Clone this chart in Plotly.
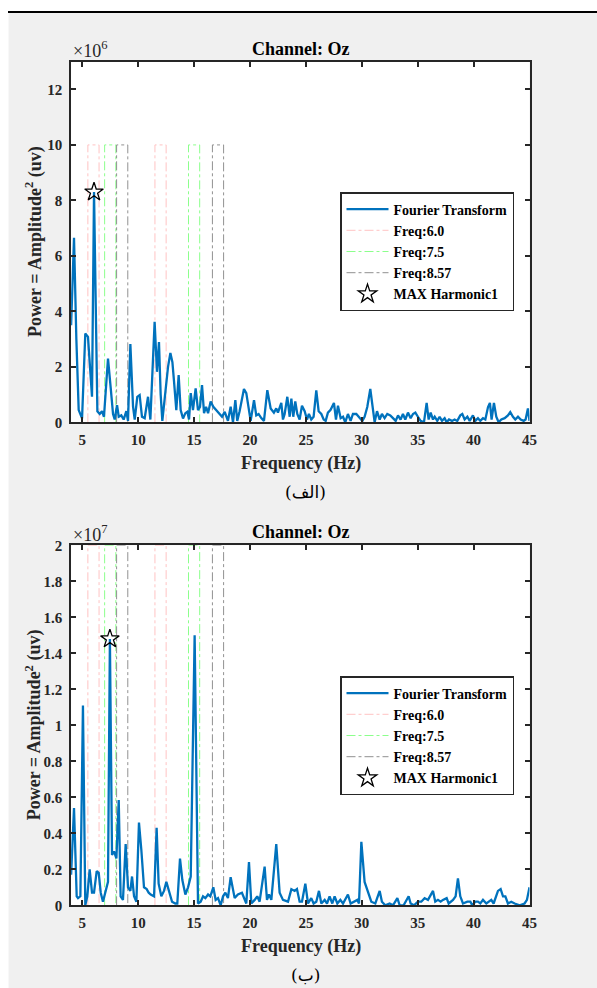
import plotly.graph_objects as go

# ---------------- data ----------------
# Panel (الف): power in units of 1e6
FREQ_A = [4.0, 4.26, 4.47, 4.68, 4.98, 5.27, 5.51, 5.87, 6.05, 6.35,
          6.56, 6.76, 6.94, 7.3, 7.54, 7.75, 7.9, 8.11, 8.26, 8.49,
          8.7, 8.94, 9.09, 9.3, 9.54, 9.69, 9.92, 10.13, 10.34, 10.58,
          10.88, 11.09, 11.47, 11.68, 11.86, 12.01, 12.16, 12.43, 12.67, 12.88,
          13.06, 13.2, 13.41, 13.62, 13.8, 14.01, 14.22, 14.4, 14.55, 14.7,
          14.9, 15.14, 15.35, 15.53, 15.71, 15.89, 16.07, 16.25, 16.48, 16.72,
          16.99, 17.29, 17.5, 17.74, 18.03, 18.27, 18.48, 18.69, 18.86, 19.07,
          19.46, 19.67, 19.88, 20.06, 20.36, 20.56, 20.77, 21.01, 21.25, 21.55,
          21.85, 22.14, 22.35, 22.5, 22.8, 22.95, 23.1, 23.34, 23.55, 23.7,
          23.87, 24.05, 24.23, 24.44, 24.65, 24.89, 25.1, 25.27, 25.48, 25.69,
          25.93, 26.14, 26.38, 26.59, 26.77, 26.97, 27.21, 27.51, 27.69, 27.87,
          28.11, 28.32, 28.52, 28.76, 29.0, 29.21, 29.51, 29.81, 30.05, 30.25,
          30.49, 30.76, 31.0, 31.15, 31.36, 31.6, 31.8, 32.04, 32.28, 32.55,
          32.79, 33.03, 33.24, 33.47, 33.68, 33.89, 34.13, 34.37, 34.58, 34.79,
          35.02, 35.26, 35.56, 35.8, 35.98, 36.16, 36.37, 36.52, 36.75, 36.96,
          37.17, 37.41, 37.59, 37.8, 38.07, 38.3, 38.54, 38.81, 38.99, 39.2,
          39.44, 39.65, 39.94, 40.15, 40.39, 40.6, 40.84, 41.05, 41.29, 41.46,
          41.61, 41.82, 42.03, 42.24, 42.48, 42.78, 43.07, 43.28, 43.52, 43.73,
          43.97, 44.21, 44.48, 44.65, 44.86, 45.0]
POWER_A = [3.5, 6.65, 3.0, 0.44, 0.14, 3.2, 3.08, 0.92, 8.3, 0.4,
           0.3, 0.4, 0.2, 2.3, 1.25, 0.3, 0.1, 0.62, 0.2, 0.25,
           0.1, 0.4, 0.05, 2.82, 0.56, 0.1, 0.92, 0.98, 0.2, 0.15,
           0.92, 0.1, 3.62, 1.82, 2.89, 1.0, 0.05, 1.0, 2.0, 2.5,
           2.17, 1.5, 0.44, 1.7, 0.44, 0.14, 0.33, 0.38, 0.1, 1.05,
           0.44, 1.22, 0.44, 0.56, 1.34, 0.33, 0.56, 0.33, 0.75, 0.56,
           0.44, 0.33, 0.2, 0.38, 0.05, 0.56, 0.0, 0.8, 0.05, 0.4,
           1.2, 1.05, 0.4, 0.05, 0.8, 0.25, 0.3, 0.15, 0.05, 1.16,
           0.5, 0.35, 0.5, 0.35, 0.7, 0.1, 0.3, 0.92, 0.2, 0.85,
           0.2, 0.75, 0.3, 0.1, 0.6, 0.4, 0.1, 0.3, 0.1, 0.2,
           1.15, 0.4, 0.3, 0.1, 0.05, 0.35, 0.45, 0.7, 0.1, 0.6,
           0.15, 0.2, 0.0, 0.3, 0.05, 0.3, 0.3, 0.15, 0.05, 0.2,
           0.55, 1.2, 0.4, 0.0, 0.4, 0.1, 0.3, 0.15, 0.3, 0.25,
           0.15, 0.05, 0.25, 0.1, 0.3, 0.1, 0.35, 0.15, 0.3, 0.35,
           0.2, 0.05, 0.0, 0.7, 0.1, 0.35, 0.1, 0.2, 0.05, 0.2,
           0.05, 0.15, 0.0, 0.1, 0.05, 0.1, 0.05, 0.25, 0.3, 0.1,
           0.2, 0.05, 0.25, 0.05, 0.15, 0.05, 0.15, 0.1, 0.55, 0.7,
           0.1, 0.7, 0.2, 0.0, 0.1, 0.15, 0.25, 0.37, 0.2, 0.1,
           0.2, 0.1, 0.05, 0.1, 0.5, 0.05]

# Panel (ب): power in units of 1e7
FREQ_B = [4.0, 4.26, 4.5, 4.62, 4.83, 5.06, 5.27, 5.45, 5.66, 5.87,
          6.05, 6.29, 6.47, 6.65, 6.85, 7.15, 7.3, 7.47, 7.66, 7.84,
          8.05, 8.26, 8.43, 8.64, 8.88, 9.09, 9.3, 9.45, 9.63, 9.84,
          10.07, 10.28, 10.52, 10.76, 10.94, 11.12, 11.42, 11.65, 11.83, 12.07,
          12.31, 12.52, 12.76, 13.03, 13.32, 13.5, 13.74, 13.95, 14.22, 14.46,
          14.7, 15.05, 15.35, 15.59, 15.8, 16.01, 16.25, 16.45, 16.72, 16.93,
          17.14, 17.38, 17.59, 17.8, 18.03, 18.27, 18.63, 18.92, 19.28, 19.67,
          19.91, 20.12, 20.42, 20.65, 20.86, 21.31, 21.52, 21.7, 21.91, 22.35,
          22.65, 22.95, 23.4, 23.7, 23.99, 24.2, 24.44, 24.65, 24.95, 25.19,
          25.48, 25.69, 25.93, 26.17, 26.38, 26.68, 26.89, 27.12, 27.36, 27.57,
          27.81, 28.08, 28.32, 28.52, 28.76, 29.0, 29.3, 29.6, 29.75, 29.96,
          30.25, 30.55, 30.85, 31.21, 31.6, 31.8, 32.1, 32.49, 32.79, 33.18,
          33.39, 33.74, 34.19, 34.37, 34.67, 35.02, 35.32, 35.62, 35.92, 36.37,
          36.57, 36.81, 37.05, 37.26, 37.59, 37.77, 38.16, 38.39, 38.6, 38.81,
          39.05, 39.44, 39.71, 39.88, 40.15, 40.39, 40.6, 40.84, 41.14, 41.58,
          41.79, 42.18, 42.42, 42.63, 42.84, 43.07, 43.37, 43.67, 44.12, 44.56,
          44.77, 45.0]
POWER_B = [0.17, 0.54, 0.05, 0.04, 0.05, 1.11, 0.0, 0.05, 0.2, 0.07,
           0.07, 0.19, 0.18, 0.07, 0.02, 0.1, 0.13, 1.48, 0.28, 0.3,
           0.26, 0.585, 0.05, 0.03, 0.34, 0.1, 0.08, 0.16, 0.05, 0.02,
           0.46, 0.31, 0.1, 0.09, 0.07, 0.06, 0.05, 0.43, 0.12, 0.05,
           0.08, 0.13, 0.08, 0.02, 0.01, 0.01, 0.26, 0.14, 0.06, 0.1,
           0.16, 1.5, 0.01, 0.02, 0.05, 0.04, 0.06, 0.05, 0.1, 0.03,
           0.04, 0.0, 0.05, 0.07, 0.04, 0.156, 0.04, 0.06, 0.07, 0.01,
           0.24, 0.01, 0.03, 0.05, 0.02, 0.215, 0.03, 0.06, 0.03, 0.34,
           0.07, 0.03, 0.02, 0.09, 0.08, 0.09, 0.02, 0.02, 0.12, 0.01,
           0.04, 0.01, 0.02, 0.08, 0.01, 0.03, 0.01, 0.05, 0.01, 0.05,
           0.01, 0.03, 0.01, 0.03, 0.06, 0.01, 0.02, 0.03, 0.01, 0.353,
           0.13, 0.07, 0.02, 0.01, 0.08, 0.02, 0.0, 0.01, 0.0, 0.04,
           0.0, 0.0, 0.05, 0.01, 0.0, 0.02, 0.02, 0.04, 0.03, 0.08,
           0.02, 0.03, 0.02, 0.03, 0.04, 0.01, 0.03, 0.05, 0.15, 0.05,
           0.01, 0.02, 0.02, 0.0, 0.02, 0.02, 0.01, 0.03, 0.01, 0.03,
           0.01, 0.08, 0.09, 0.05, 0.05, 0.01, 0.02, 0.01, 0.0, 0.01,
           0.03, 0.1]

STIM_FREQS = [6.0, 7.5, 8.57]
STIM_LABELS = ["Freq:6.0", "Freq:7.5", "Freq:8.57"]
STIM_COLORS = ["rgb(255,195,195)", "rgb(140,255,140)", "rgb(145,145,145)"]
HARMONICS = [1, 2]
BAND_HALF = 0.5
BAND_TOP_A = 10.0
BAND_TOP_B = 2.0
PEAK_A = (6.05, 8.3)
PEAK_B = (7.47, 1.48)

X_TICKS = [5, 10, 15, 20, 25, 30, 35, 40, 45]
Y_TICKS_A = [0, 2, 4, 6, 8, 10, 12]
Y_TICKS_B = [0, 0.2, 0.4, 0.6, 0.8, 1.0, 1.2, 1.4, 1.6, 1.8, 2.0]
Y_LABELS_B = ["0", "0.2", "0.4", "0.6", "0.8", "1", "1.2", "1.4", "1.6", "1.8", "2"]

# ---------------- layout helpers ----------------
W, H = 597, 988
def px(v):
    return v / W
def py(v):
    return 1 - v / H

FONT = "Liberation Serif"
AX_COLOR = "#262626"
BLUE = "#0072BD"

X_DOM = [px(71.1), px(529.5)]
Y_DOM_A = [py(422.3), py(61.7)]
Y_DOM_B = [py(905.3), py(545.3)]

fig = go.Figure()

def band_xy(freq, top):
    xs, ys = [], []
    for h in HARMONICS:
        f = freq * h
        xs += [f - BAND_HALF, f - BAND_HALF, f + BAND_HALF, f + BAND_HALF, None]
        ys += [0, top, top, 0, None]
    return xs, ys

def add_panel(xa, ya, legend, freqs, powers, top, peak):
    for i, (f, lab, col) in enumerate(zip(STIM_FREQS, STIM_LABELS, STIM_COLORS)):
        bx, by = band_xy(f, top)
        fig.add_trace(go.Scatter(x=bx, y=by, mode="lines", name=lab,
                                 line=dict(color=col, width=1, dash="dashdot"),
                                 xaxis=xa, yaxis=ya, legend=legend,
                                 legendrank=2 + i, connectgaps=False,
                                 hoverinfo="skip"))
    fig.add_trace(go.Scatter(x=freqs, y=powers, mode="lines", name="Fourier Transform",
                             line=dict(color=BLUE, width=2.3),
                             xaxis=xa, yaxis=ya, legend=legend, legendrank=1))
    fig.add_trace(go.Scatter(x=[peak[0]], y=[peak[1]], mode="markers", name="MAX Harmonic1",
                             marker=dict(symbol="star-open", size=14, color="black",
                                         line=dict(color="black", width=1.3)),
                             xaxis=xa, yaxis=ya, legend=legend, legendrank=5))

add_panel("x", "y", "legend", FREQ_A, POWER_A, BAND_TOP_A, PEAK_A)
add_panel("x2", "y2", "legend2", FREQ_B, POWER_B, BAND_TOP_B, PEAK_B)

tickfont = dict(family=FONT, size=15, color=AX_COLOR, weight="bold")
axis_common = dict(showline=True, mirror="ticks", linecolor=AX_COLOR, linewidth=1.8,
                   ticks="inside", ticklen=5, tickwidth=1.8, tickcolor=AX_COLOR,
                   showgrid=False, zeroline=False, tickfont=tickfont, fixedrange=True,
                   automargin=False)

xaxis_cfg = dict(axis_common, range=[4, 45], tickvals=X_TICKS, ticktext=[str(t) for t in X_TICKS],
                 domain=X_DOM, ticklabelstandoff=3)

legend_common = dict(xanchor="left", yanchor="top", bgcolor="white", bordercolor=AX_COLOR,
                     borderwidth=1.5, font=dict(family=FONT, size=14, color="black", weight="bold"),
                     itemwidth=42, traceorder="normal", tracegroupgap=0)

title_font = dict(family=FONT, size=18, color="black", weight="bold")
label_font = dict(family=FONT, size=18, color=AX_COLOR, weight="bold")

annotations = []
for (ytop, ybot, ycen, exp, cap) in [(61.7, 422.3, 242.0, "6", "(الف)"),
                                     (545.3, 905.3, 725.3, "7", "(ب)")]:
    annotations += [
        dict(text="Channel: Oz", x=px(300.5), y=py(ytop - 13), xref="paper", yref="paper",
             showarrow=False, font=title_font, xanchor="center", yanchor="middle"),
        dict(text="×10<sup>" + exp + "</sup>", x=px(71), y=py(ytop - 12), xref="paper", yref="paper",
             showarrow=False, font=dict(family=FONT, size=18, color=AX_COLOR),
             xanchor="left", yanchor="middle"),
        dict(text="Frequency (Hz)", x=px(300.5), y=py(ybot + 41), xref="paper", yref="paper",
             showarrow=False, font=label_font, xanchor="center", yanchor="middle"),
        dict(text="Power = Amplitude<sup>2</sup> (uv)", x=px(34), y=py(ycen), xref="paper", yref="paper",
             showarrow=False, font=label_font, textangle=-90, xanchor="center", yanchor="middle"),
        dict(text=cap, x=px(305), y=py(ybot + 70), xref="paper", yref="paper",
             showarrow=False, font=dict(family="DejaVu Serif, DejaVu Sans", size=17, color="black"),
             xanchor="center", yanchor="middle"),
    ]

shapes = [
    dict(type="rect", xref="paper", yref="paper", x0=0, x1=1, y0=py(11), y1=1,
         fillcolor="white", line=dict(width=0), layer="below"),
    dict(type="rect", xref="paper", yref="paper", x0=0, x1=px(8.5), y0=0, y1=1,
         fillcolor="white", line=dict(width=0), layer="below"),
    dict(type="line", xref="paper", yref="paper", x0=px(8), x1=1, y0=py(12), y1=py(12),
         line=dict(color="black", width=2), layer="below"),
]

fig.update_layout(
    width=W, height=H,
    margin=dict(l=0, r=0, t=0, b=0, autoexpand=False),
    paper_bgcolor="#f0f0f0", plot_bgcolor="white",
    showlegend=True,
    xaxis=dict(xaxis_cfg, anchor="y"),
    yaxis=dict(axis_common, range=[0, 13], tickvals=Y_TICKS_A, ticktext=[str(t) for t in Y_TICKS_A],
               domain=Y_DOM_A, anchor="x", ticklabelstandoff=4),
    xaxis2=dict(xaxis_cfg, anchor="y2"),
    yaxis2=dict(axis_common, range=[0, 2], tickvals=Y_TICKS_B, ticktext=Y_LABELS_B,
                domain=Y_DOM_B, anchor="x2", ticklabelstandoff=4),
    legend=dict(legend_common, x=px(340), y=py(192)),
    legend2=dict(legend_common, x=px(340), y=py(676)),
    annotations=annotations,
    shapes=shapes,
)

fig.write_html("out.html", config={"displayModeBar": False})
